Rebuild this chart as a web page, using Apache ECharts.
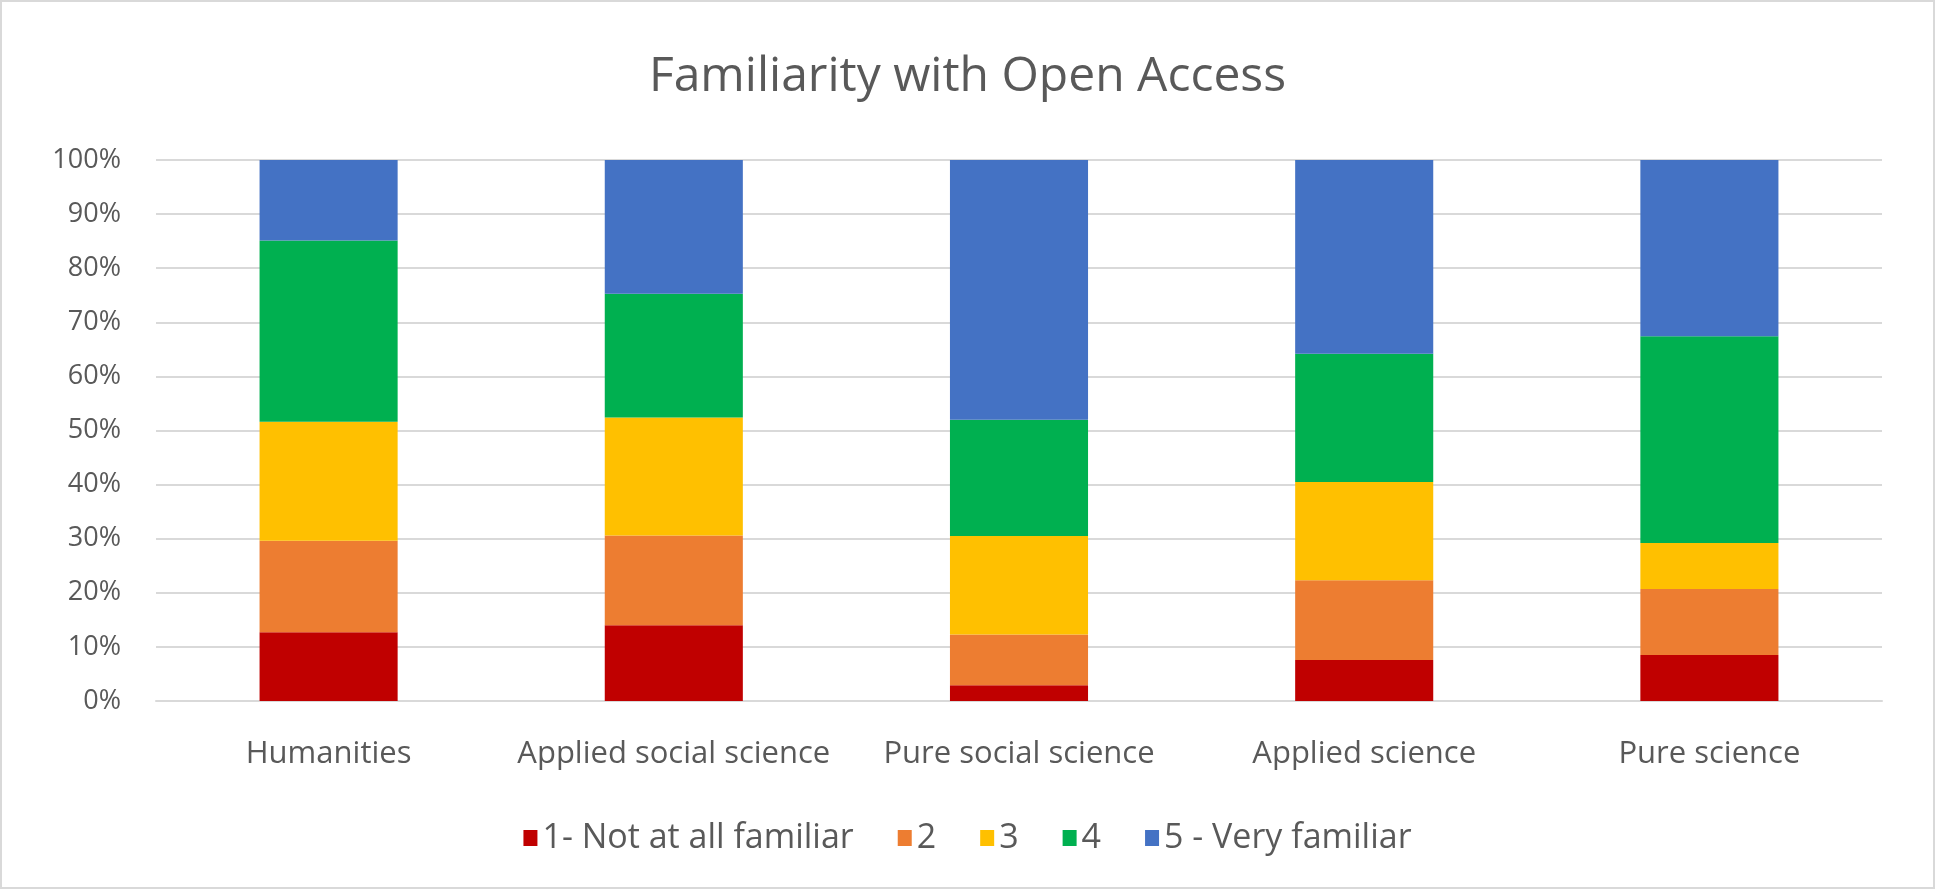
<!DOCTYPE html>
<html>
<head>
<meta charset="utf-8">
<script src="https://cdn.jsdelivr.net/npm/echarts@6/dist/echarts.min.js"></script>
<style>
  html, body { margin: 0; padding: 0; background: #fff; }
  #chart { width: 1935px; height: 889px; box-sizing: border-box; border: 2px solid #d9d9d9; }
</style>
</head>
<body>
<div id="chart"></div>
<script>
// Share of respondents (%) by familiarity level, per discipline group
const categories = ['Humanities', 'Applied social science', 'Pure social science', 'Applied science', 'Pure science'];
const seriesNames = ['1- Not at all familiar', '2', '3', '4', '5 - Very familiar'];
const level1 = [12.7, 14.0, 2.9, 7.6, 8.5];
const level2 = [16.9, 16.6, 9.4, 14.7, 12.2];
const level3 = [22.0, 21.8, 18.2, 18.2, 8.5];
const level4 = [33.5, 22.9, 21.5, 23.7, 38.2];
const level5 = [14.9, 24.7, 48.0, 35.8, 32.6];
const colors = ['#C00000', '#ED7D31', '#FFC000', '#00B050', '#4472C4'];

const levels = [level1, level2, level3, level4, level5];
const font = '"Open Sans", sans-serif';
const textColor = '#595959';

const chart = echarts.init(document.getElementById('chart'));
chart.setOption({
  animation: false,
  backgroundColor: '#ffffff',
  title: {
    text: 'Familiarity with Open Access',
    left: 'center',
    top: 46,
    textStyle: { fontFamily: font, fontSize: 48, fontWeight: 'normal', color: textColor }
  },
  legend: {
    bottom: 27,
    left: 'center',
    itemWidth: 14,
    itemHeight: 16,
    itemGap: 44,
    icon: 'rect',
    textStyle: { fontFamily: font, fontSize: 34, color: textColor }
  },
  grid: { left: 154, right: 51, top: 158, bottom: 186 },
  xAxis: {
    type: 'category',
    data: categories,
    axisTick: { show: false },
    axisLine: { lineStyle: { color: '#d9d9d9', width: 2 } },
    axisLabel: { fontFamily: font, fontSize: 31, color: textColor, margin: 38, interval: 0, hideOverlap: false }
  },
  yAxis: {
    type: 'value',
    min: 0,
    max: 100,
    interval: 10,
    axisLabel: { fontFamily: font, fontSize: 27, color: textColor, margin: 35, formatter: '{value}%' },
    splitLine: { lineStyle: { color: '#d9d9d9', width: 2 } },
    axisLine: { show: false },
    axisTick: { show: false }
  },
  series: levels.map((vals, i) => ({
    name: seriesNames[i],
    type: 'bar',
    stack: 'total',
    barCategoryGap: '60%',
    itemStyle: { color: colors[i] },
    data: vals
  }))
});
</script>
</body>
</html>
